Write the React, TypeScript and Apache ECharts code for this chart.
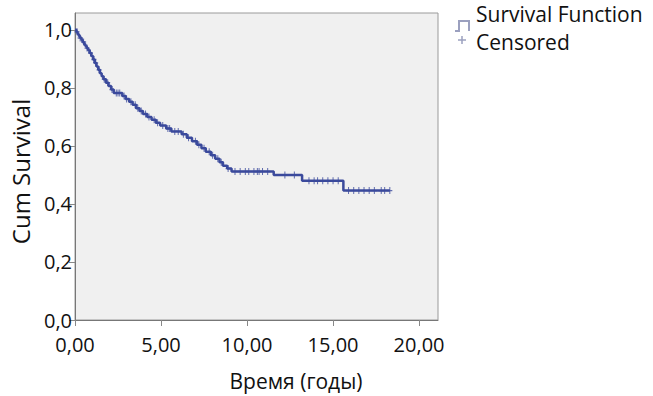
import React, { useEffect, useRef } from "react";
import * as echarts from "echarts";

const eventTimes = [
  0, 0.08, 0.15, 0.22, 0.3, 0.38, 0.45, 0.52, 0.6, 0.68, 0.76, 0.85, 0.95, 1.05, 1.15, 1.25,
  1.35, 1.45, 1.55, 1.65, 1.8, 1.95, 2.1, 2.25, 2.75, 2.95, 3.15, 3.35, 3.55, 3.75, 3.95, 4.2,
  4.45, 4.7, 4.95, 5.3, 5.6, 6.2, 6.5, 6.8, 7.1, 7.35, 7.6, 7.9, 8.15, 8.4, 8.6, 8.85, 9.1,
  11.55, 13.2, 15.6, 18.3,
];
const survival = [
  1.0, 0.993, 0.986, 0.979, 0.972, 0.965, 0.958, 0.951, 0.944, 0.937, 0.93, 0.92, 0.91, 0.898,
  0.886, 0.874, 0.862, 0.85, 0.84, 0.83, 0.818, 0.806, 0.794, 0.782, 0.772, 0.762, 0.752, 0.742,
  0.73, 0.72, 0.71, 0.7, 0.69, 0.68, 0.67, 0.66, 0.65, 0.64, 0.628, 0.616, 0.604, 0.592, 0.58,
  0.568, 0.556, 0.544, 0.532, 0.522, 0.512, 0.5, 0.48, 0.446, 0.446,
];
const censoredTimes = [
  0.12, 0.3, 0.5, 0.7, 0.9, 1.1, 1.2, 1.4, 1.7, 1.9, 2.15, 2.4, 2.5, 2.6, 2.85, 3.0, 3.25, 3.5,
  3.65, 3.85, 4.1, 4.3, 4.6, 4.8, 5.1, 5.4, 5.5, 5.8, 6.0, 6.3, 6.6, 7.0, 7.2, 7.5, 7.8, 8.0, 8.3,
  8.5, 8.9, 9.3, 9.6, 9.9, 10.1, 10.4, 10.6, 10.7, 10.9, 11.2, 12.2, 12.75, 13.6, 13.9, 14.1, 14.4,
  14.7, 15.0, 15.3, 15.9, 16.2, 16.5, 16.8, 17.1, 17.4, 17.8, 18.0, 18.3,
];
const xTicks = [0, 5, 10, 15, 20];
const yTicks = [0, 0.2, 0.4, 0.6, 0.8, 1.0];

const FONT = "Open Sans";
const BLUE = "#3b4a9c";

function survAt(t: number): number {
  let s = survival[0];
  for (let i = 0; i < eventTimes.length; i++) {
    if (eventTimes[i] <= t) s = survival[i];
  }
  return s;
}

const plusPath = "path://M4,0 L6,0 L6,4 L10,4 L10,6 L6,6 L6,10 L4,10 L4,6 L0,6 L0,4 L4,4 Z";

export default function App() {
  const ref = useRef<HTMLDivElement>(null);
  useEffect(() => {
    if (!ref.current) return;
    const chart = echarts.init(ref.current, undefined, { renderer: "svg" });
    chart.setOption({
      animation: false,
      backgroundColor: "#ffffff",
      grid: {
        left: 71,
        right: 215,
        top: 13,
        bottom: 72,
        show: true,
        backgroundColor: "#f0f0f0",
        borderColor: "#9a9a9a",
        borderWidth: 1,
      },
      xAxis: {
        type: "value",
        min: 0,
        max: 21.1,
        interval: 5,
        name: "Время (годы)",
        nameLocation: "middle",
        nameGap: 50,
        nameTextStyle: { fontFamily: FONT, fontSize: 21, color: "#111", padding: [0, 0, 0, 79] },
        axisLine: { show: true, lineStyle: { color: "#777", width: 1 } },
        axisTick: { show: true, length: 6, inside: false, lineStyle: { color: "#888" }, customValues: xTicks },
        axisLabel: {
          customValues: xTicks,
          fontFamily: FONT,
          fontSize: 20,
          lineHeight: 20,
          color: "#111",
          margin: 14,
          formatter: (v: number) => v.toFixed(2).replace(".", ","),
        },
        splitLine: { show: false },
      },
      yAxis: {
        type: "value",
        min: 0,
        max: 1.058,
        interval: 0.2,
        name: "Cum Survival",
        nameLocation: "middle",
        nameGap: 43,
        nameRotate: 90,
        nameTextStyle: { fontFamily: FONT, fontSize: 24, color: "#111", padding: [0, 10, 0, 0] },
        axisLine: { show: true, lineStyle: { color: "#777", width: 1 } },
        axisTick: { show: true, length: 6, inside: false, lineStyle: { color: "#888" }, customValues: yTicks },
        axisLabel: {
          customValues: yTicks,
          fontFamily: FONT,
          fontSize: 20,
          lineHeight: 18,
          color: "#111",
          margin: 3,
          formatter: (v: number) => v.toFixed(1).replace(".", ","),
        },
        splitLine: { show: false },
      },
      series: [
        {
          name: "Survival Function",
          type: "line",
          step: "end",
          data: eventTimes.map((t, i) => [t, survival[i]]),
          showSymbol: false,
          symbol: "none",
          lineStyle: { color: BLUE, width: 2.5 },
          itemStyle: { color: BLUE },
          z: 3,
        },
        {
          name: "Censored",
          type: "scatter",
          data: censoredTimes.map((t) => [t, survAt(t)]),
          symbol: plusPath,
          symbolSize: [5, 7],
          itemStyle: { color: BLUE },
          z: 4,
        },
      ],
      graphic: [
        {
          type: "polyline",
          shape: { points: [[455, 31], [459, 31], [459, 21], [469, 21], [469, 31]] },
          style: { stroke: "#9ba0bf", lineWidth: 2, fill: "none" },
        },
        {
          type: "line",
          shape: { x1: 458, y1: 40, x2: 466, y2: 40 },
          style: { stroke: "#9ba0bf", lineWidth: 1.5 },
        },
        {
          type: "line",
          shape: { x1: 462, y1: 36, x2: 462, y2: 44 },
          style: { stroke: "#9ba0bf", lineWidth: 1.5 },
        },
        {
          type: "text",
          x: 476,
          y: 14,
          style: {
            text: "Survival Function",
            fontFamily: FONT,
            fontSize: 21,
            fill: "#111",
            verticalAlign: "middle",
            align: "left",
          },
        },
        {
          type: "text",
          x: 476,
          y: 42,
          style: {
            text: "Censored",
            fontFamily: FONT,
            fontSize: 21,
            fill: "#111",
            verticalAlign: "middle",
            align: "left",
          },
        },
      ],
    });
    return () => chart.dispose();
  }, []);
  return <div ref={ref} style={{ position: "absolute", left: 0, top: 0, width: 653, height: 396 }} />;
}
